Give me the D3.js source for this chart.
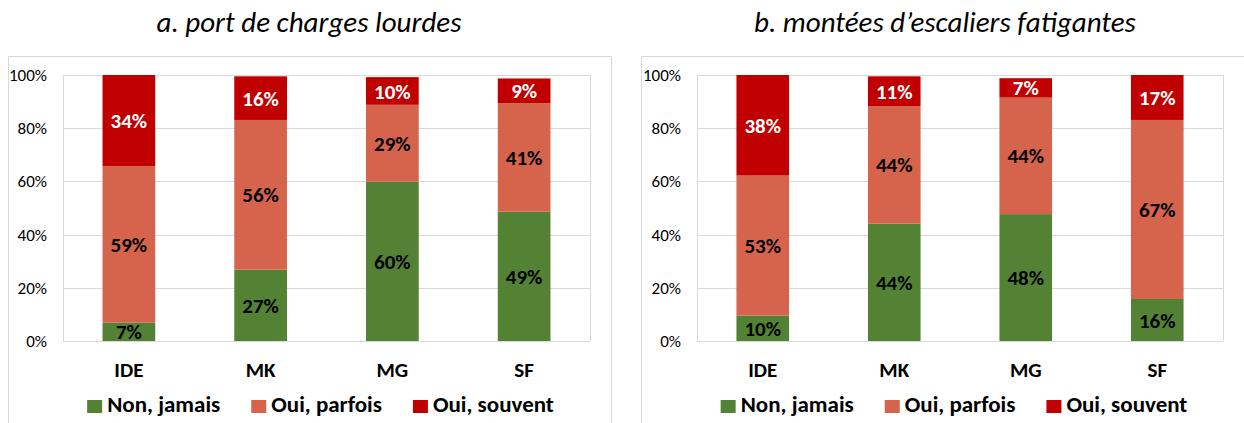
<!DOCTYPE html>
<html>
<head>
<meta charset="utf-8">
<script src="https://cdn.jsdelivr.net/npm/d3@7"></script>
<style>
  html, body { margin: 0; padding: 0; background: #ffffff; }
  svg { display: block; }
  text { font-family: Carlito, Calibri, Lato, "Noto Sans", sans-serif; }
</style>
</head>
<body>
<svg id="chart" width="1244" height="423"></svg>
<script>
// ---- data ----
const categories = ["IDE", "MK", "MG", "SF"];
const seriesNames = ["Non, jamais", "Oui, parfois", "Oui, souvent"];
const panelTitles = ["a. port de charges lourdes", "b. montées d’escaliers fatigantes"];
const yTicks = [0, 20, 40, 60, 80, 100];

// panel a: port de charges lourdes (%)
const aNonJamais  = [6.9, 26.8, 59.9, 48.6];
const aOuiParfois = [58.9, 56.3, 28.9, 40.8];
const aOuiSouvent = [34.2, 16.4, 10.4, 9.3];

// panel b: montées d'escaliers fatigantes (%)
const bNonJamais  = [9.6, 44.1, 47.7, 15.8];
const bOuiParfois = [52.6, 44.2, 43.8, 67.3];
const bOuiSouvent = [37.8, 11.2, 7.3, 16.9];

// ---- styles ----
const colors = ["#548235", "#D6634B", "#C00000"];
const labelColors = ["#000000", "#000000", "#ffffff"];
const gridColor = "#D9D9D9";
const FONT = "Carlito, Calibri, Lato, 'Noto Sans', sans-serif";

const panels = [
  { title: panelTitles[0], series: [aNonJamais, aOuiParfois, aOuiSouvent],
    box: [8.5, 56.5, 603, 400], plot: [63, 75, 590, 341], titleX: 309 },
  { title: panelTitles[1], series: [bNonJamais, bOuiParfois, bOuiSouvent],
    box: [641.5, 56.5, 620, 400], plot: [697, 75, 1223, 341], titleX: 945 }
];

const svg = d3.select("#chart");

panels.forEach(p => {
  const g = svg.append("g");
  const [px0, py0, px1, py1] = p.plot;

  // chart border
  g.append("rect")
    .attr("x", p.box[0]).attr("y", p.box[1])
    .attr("width", p.box[2]).attr("height", p.box[3])
    .attr("fill", "none").attr("stroke", gridColor).attr("stroke-width", 1);

  // title
  g.append("text")
    .attr("x", p.titleX)
    .attr("y", 32)
    .attr("text-anchor", "middle")
    .attr("font-style", "italic")
    .attr("font-size", 29)
    .attr("fill", "#000")
    .text(p.title);

  const x = d3.scaleBand().domain(categories).range([px0, px1])
    .paddingInner(0.6).paddingOuter(0.3);
  const y = d3.scaleLinear().domain([0, 100]).range([py1, py0]);

  // gridlines
  g.append("g").selectAll("line").data(yTicks).join("line")
    .attr("x1", px0).attr("x2", px1)
    .attr("y1", d => Math.round(y(d)) + 0.5).attr("y2", d => Math.round(y(d)) + 0.5)
    .attr("stroke", gridColor).attr("stroke-width", 1);
  // plot border verticals
  g.append("line").attr("x1", px0 + 0.5).attr("x2", px0 + 0.5).attr("y1", py0).attr("y2", py1)
    .attr("stroke", gridColor);
  g.append("line").attr("x1", px1 + 0.5).attr("x2", px1 + 0.5).attr("y1", py0).attr("y2", py1)
    .attr("stroke", gridColor);

  // y axis labels
  const yAxis = d3.axisLeft(y).tickValues(yTicks).tickFormat(d => d + "%").tickSize(0).tickPadding(16);
  const ya = g.append("g").attr("transform", `translate(${px0},0)`).call(yAxis);
  ya.select(".domain").remove();
  ya.selectAll("text").attr("font-size", 17).attr("fill", "#000")
    .style("font-family", FONT);

  // x axis labels
  const xAxis = d3.axisBottom(x).tickSize(0).tickPadding(21);
  const xa = g.append("g").attr("transform", `translate(0,${py1})`).call(xAxis);
  xa.select(".domain").remove();
  xa.selectAll("text").attr("font-size", 21).attr("font-weight", "bold").attr("fill", "#000")
    .style("font-family", FONT);

  // stacked data
  const rows = categories.map((c, i) => {
    const r = { cat: c };
    seriesNames.forEach((s, k) => r[s] = p.series[k][i]);
    return r;
  });
  const stacked = d3.stack().keys(seriesNames)(rows);

  stacked.forEach((layer, k) => {
    const lg = g.append("g");
    lg.selectAll("rect").data(layer).join("rect")
      .attr("x", d => x(d.data.cat))
      .attr("width", x.bandwidth())
      .attr("y", d => y(d[1]))
      .attr("height", d => y(d[0]) - y(d[1]))
      .attr("fill", colors[k]);
    lg.selectAll("text").data(layer).join("text")
      .attr("x", d => x(d.data.cat) + x.bandwidth() / 2)
      .attr("y", d => (y(d[0]) + y(d[1])) / 2)
      .attr("dy", "0.36em")
      .attr("text-anchor", "middle")
      .attr("font-size", 21)
      .attr("font-weight", "bold")
      .attr("fill", labelColors[k])
      .text(d => Math.round(d[1] - d[0]) + "%");
  });

  // legend
  const leg = g.append("g");
  const items = leg.selectAll("g").data(seriesNames).join("g");
  items.append("rect").attr("width", 15).attr("height", 13).attr("y", -12)
    .attr("fill", (d, i) => colors[i]);
  items.append("text").attr("x", 20).attr("y", 0)
    .attr("font-size", 23).attr("font-weight", "bold").attr("fill", "#000")
    .text(d => d);
  let offs = 0;
  const widths = [];
  items.each(function () { widths.push(this.getBBox().width); });
  const gap = 31;
  const total = d3.sum(widths) + gap * (widths.length - 1);
  items.attr("transform", (d, i) => {
    const t = `translate(${offs},0)`;
    offs += widths[i] + gap;
    return t;
  });
  const cx = (px0 + px1) / 2 - 6;
  leg.attr("transform", `translate(${cx - total / 2},412)`);
});
</script>
</body>
</html>
